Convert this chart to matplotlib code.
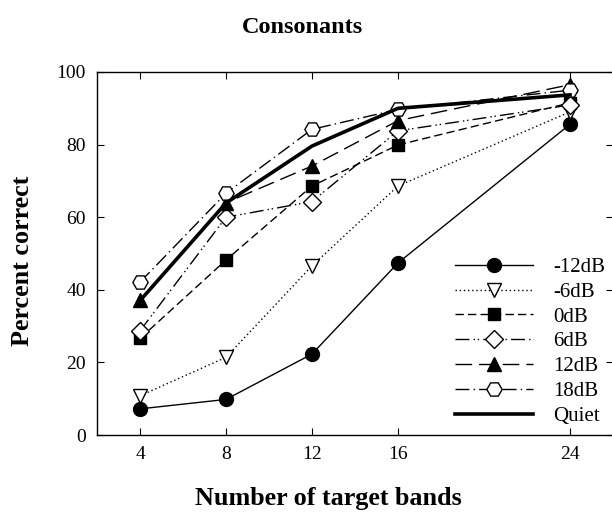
import matplotlib
matplotlib.use("Agg")
import matplotlib.pyplot as plt

bands = [4, 8, 12, 16, 24]

labels = ["-12dB", "-6dB", "0dB", "6dB", "12dB", "18dB", "Quiet"]
snr_m12 = [7.2, 9.8, 22.3, 47.4, 85.6]
snr_m6 = [10.8, 21.4, 46.6, 68.6, 89.0]
snr_0 = [26.6, 48.2, 68.6, 79.9, 91.5]
snr_6 = [28.7, 60.0, 64.3, 83.8, 90.9]
snr_12 = [37.2, 64.0, 74.1, 86.6, 96.5]
snr_18 = [42.1, 66.6, 84.2, 89.7, 95.0]
quiet = [37.0, 63.9, 79.6, 90.0, 93.7]

plt.rcParams["font.family"] = ["Liberation Serif", "DejaVu Serif"]


def main():
    fig = plt.figure(figsize=(6.12, 5.14), dpi=100)
    ax = fig.add_axes([97 / 612, 1 - 435 / 514, 516 / 612, 363 / 514])

    series = [snr_m12, snr_m6, snr_0, snr_6, snr_12, snr_18, quiet]
    styles = [
        dict(ls="-", marker="o", mfc="black", ms=10, lw=1.0),
        dict(ls=(0, (1, 2)), marker="v", mfc="white", ms=10, lw=1.0),
        dict(ls=(0, (6, 3)), marker="s", mfc="black", ms=9, lw=1.0),
        dict(ls=(0, (10, 3, 1, 2, 1, 3)), marker="D", mfc="white", ms=9, lw=1.0),
        dict(ls=(0, (12, 5)), marker="^", mfc="black", ms=10, lw=1.0),
        dict(ls=(0, (10, 3, 1, 3)), marker="H", mfc="white", ms=11, lw=1.0),
        dict(ls="-", marker=None, lw=2.6),
    ]
    for y, lab, st in zip(series, labels, styles):
        ax.plot(bands, y, color="black", mec="black", label=lab, **st)

    ax.set_xlim(2, 26)
    ax.set_ylim(0, 100)
    ax.set_xticks(bands)
    ax.set_yticks([0, 20, 40, 60, 80, 100])
    ax.tick_params(direction="in", top=True, right=True, labelsize=14,
                   length=5, pad=8)
    for s in ax.spines.values():
        s.set_linewidth(1.0)

    ax.legend(loc="upper left", bbox_to_anchor=(0.678, 0.512), frameon=False,
              fontsize=15, handlelength=3.75, labelspacing=0.25,
              handletextpad=0.95, borderaxespad=0.0)

    fig.text(0.495, 0.947, "Consonants", ha="center", va="center",
             fontsize=17.5, fontweight="bold")
    fig.text(0.536, 0.03, "Number of target bands", ha="center", va="center",
             fontsize=18.8, fontweight="bold")
    fig.text(0.036, 0.492, "Percent correct", ha="center", va="center",
             rotation=90, fontsize=18.8, fontweight="bold")

    fig.savefig("out.png", dpi=100)


if __name__ == "__main__":
    main()
